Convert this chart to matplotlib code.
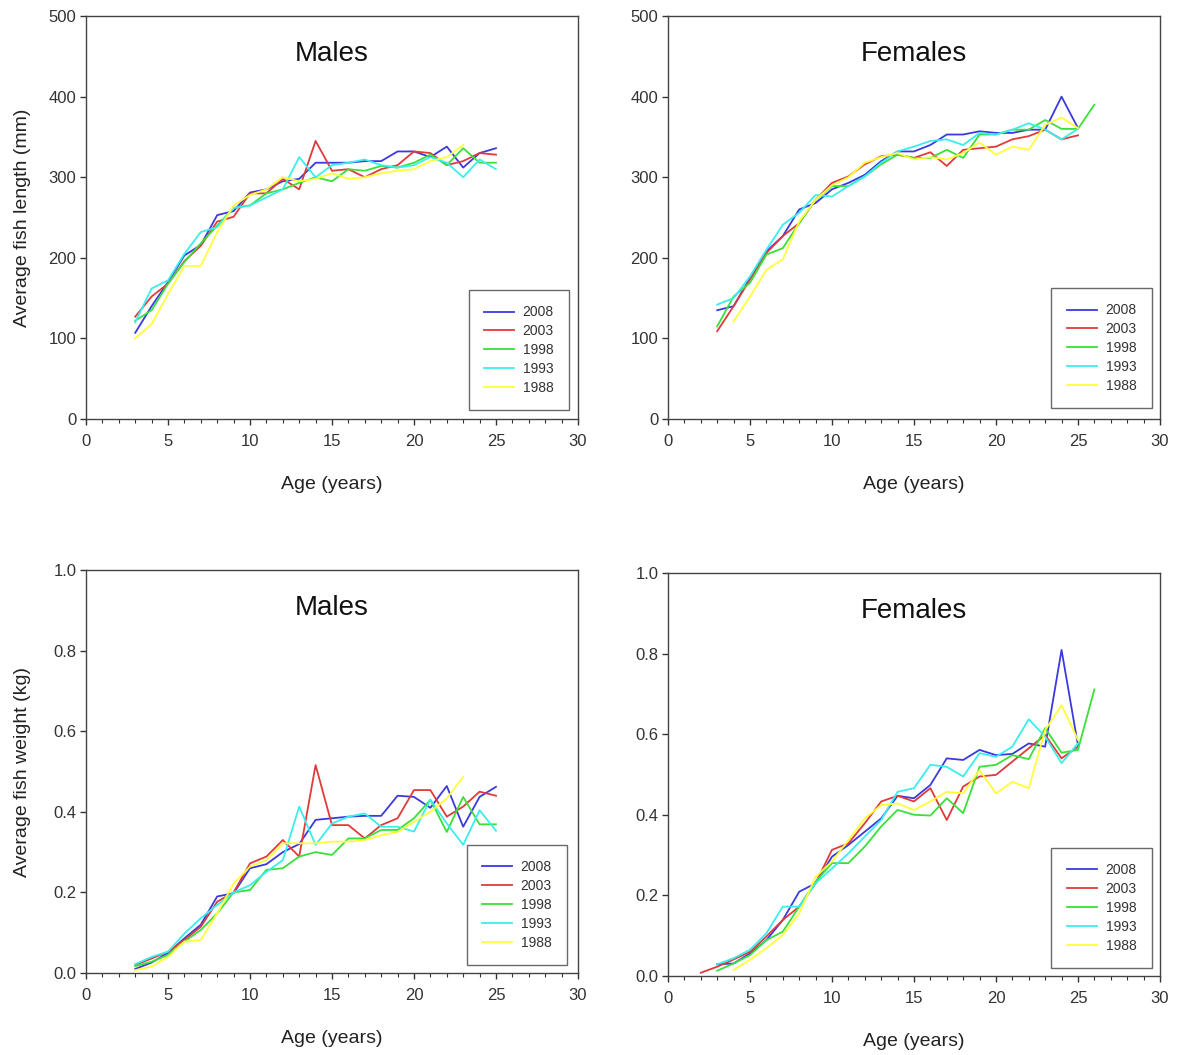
import matplotlib
matplotlib.use("Agg")
import matplotlib.pyplot as plt
from matplotlib.ticker import MultipleLocator, FormatStrFormatter

plt.rcParams['font.family'] = ['Liberation Sans', 'DejaVu Sans']

years = ['2008', '2003', '1998', '1993', '1988']
colors = ['#3a3ae0', '#e03a3a', '#3ae03a', '#3aeeee', '#ffff3a']

# age ranges per series
ages_3_25 = list(range(3, 26))
ages_3_23 = list(range(3, 24))
ages_4_25 = list(range(4, 26))
ages_3_26 = list(range(3, 27))
ages_2_25 = list(range(2, 26))

# --- males, length (mm)
m_len_2008 = [107, 140, 170, 203, 216, 253, 258, 281, 285, 295, 298, 318, 318, 318, 320, 320, 332, 332, 325, 338, 312, 330, 336]
m_len_2003 = [127, 152, 168, 196, 215, 245, 251, 280, 280, 298, 285, 345, 308, 310, 300, 310, 315, 332, 330, 315, 320, 330, 328]
m_len_1998 = [122, 135, 168, 195, 218, 240, 262, 265, 280, 285, 293, 300, 295, 310, 308, 314, 312, 318, 328, 315, 336, 318, 318]
m_len_1993 = [120, 162, 172, 205, 232, 238, 262, 265, 275, 285, 325, 300, 315, 318, 322, 315, 312, 315, 325, 318, 300, 322, 310]
m_len_1988 = [100, 118, 155, 190, 190, 232, 265, 278, 285, 300, 295, 298, 305, 298, 300, 305, 308, 310, 320, 325, 340]

# --- females, length (mm)
f_len_2008 = [135, 140, 175, 208, 227, 260, 268, 285, 293, 303, 320, 332, 332, 340, 353, 353, 357, 355, 355, 359, 359, 400, 361]
f_len_2003 = [109, 140, 173, 206, 227, 243, 272, 293, 301, 316, 326, 328, 324, 331, 314, 334, 336, 338, 347, 351, 359, 347, 352]
f_len_1998 = [115, 152, 169, 204, 212, 243, 272, 289, 289, 301, 316, 328, 324, 324, 334, 324, 353, 353, 359, 359, 371, 360, 360, 390]
f_len_1993 = [142, 150, 177, 210, 241, 256, 278, 276, 289, 301, 318, 332, 338, 345, 347, 340, 355, 353, 359, 367, 359, 347, 360]
f_len_1988 = [121, 152, 185, 198, 245, 272, 290, 300, 318, 325, 330, 322, 325, 322, 330, 343, 328, 338, 334, 365, 374, 361]

# --- males, weight (kg)
m_wt_2008 = [0.010, 0.026, 0.050, 0.086, 0.120, 0.190, 0.198, 0.260, 0.270, 0.300, 0.320, 0.380, 0.384, 0.388, 0.390, 0.390, 0.440, 0.437, 0.410, 0.464, 0.363, 0.437, 0.462]
m_wt_2003 = [0.020, 0.036, 0.053, 0.082, 0.115, 0.177, 0.200, 0.272, 0.289, 0.330, 0.289, 0.516, 0.367, 0.367, 0.334, 0.367, 0.384, 0.454, 0.454, 0.388, 0.413, 0.450, 0.440]
m_wt_1998 = [0.017, 0.028, 0.045, 0.078, 0.107, 0.148, 0.200, 0.206, 0.256, 0.260, 0.289, 0.300, 0.293, 0.334, 0.334, 0.355, 0.355, 0.384, 0.430, 0.350, 0.437, 0.369, 0.369]
m_wt_1993 = [0.022, 0.040, 0.053, 0.098, 0.136, 0.169, 0.200, 0.218, 0.251, 0.280, 0.413, 0.318, 0.371, 0.388, 0.396, 0.363, 0.363, 0.351, 0.430, 0.371, 0.318, 0.404, 0.353]
m_wt_1988 = [0.007, 0.016, 0.040, 0.078, 0.082, 0.148, 0.222, 0.264, 0.280, 0.322, 0.322, 0.322, 0.326, 0.326, 0.330, 0.342, 0.350, 0.375, 0.400, 0.433, 0.487]

# --- females, weight (kg)
f_wt_2008 = [0.029, 0.031, 0.056, 0.089, 0.139, 0.209, 0.230, 0.296, 0.325, 0.358, 0.391, 0.447, 0.441, 0.474, 0.540, 0.536, 0.561, 0.548, 0.551, 0.577, 0.569, 0.809, 0.573]
f_wt_2003 = [0.008, 0.023, 0.041, 0.060, 0.098, 0.139, 0.172, 0.230, 0.313, 0.329, 0.379, 0.433, 0.447, 0.433, 0.466, 0.387, 0.470, 0.495, 0.499, 0.532, 0.565, 0.598, 0.540, 0.569]
f_wt_1998 = [0.013, 0.031, 0.052, 0.089, 0.110, 0.172, 0.234, 0.280, 0.280, 0.321, 0.371, 0.412, 0.400, 0.398, 0.441, 0.404, 0.519, 0.524, 0.548, 0.538, 0.615, 0.554, 0.561, 0.711]
f_wt_1993 = [0.029, 0.044, 0.065, 0.106, 0.172, 0.172, 0.230, 0.267, 0.304, 0.346, 0.387, 0.457, 0.466, 0.524, 0.519, 0.495, 0.553, 0.544, 0.569, 0.637, 0.594, 0.528, 0.577]
f_wt_1988 = [0.015, 0.040, 0.069, 0.102, 0.155, 0.246, 0.284, 0.337, 0.391, 0.424, 0.428, 0.412, 0.433, 0.457, 0.453, 0.511, 0.453, 0.482, 0.466, 0.610, 0.672, 0.586]

panels = [
    # (rect, title, ylabel, ymax, ystep, fmt, series, legend anchor)
    ([0.0729, 0.6028, 0.4169, 0.3820], 'Males', 'Average fish length (mm)', 500, 100, '%d',
     [(ages_3_25, m_len_2008), (ages_3_25, m_len_2003), (ages_3_25, m_len_1998),
      (ages_3_25, m_len_1993), (ages_3_23, m_len_1988)], (0.982, 0.022)),
    ([0.5661, 0.6028, 0.4169, 0.3820], 'Females', None, 500, 100, '%d',
     [(ages_3_25, f_len_2008), (ages_3_25, f_len_2003), (ages_3_26, f_len_1998),
      (ages_3_25, f_len_1993), (ages_4_25, f_len_1988)], (0.984, 0.027)),
    ([0.0729, 0.0777, 0.4169, 0.3820], 'Males', 'Average fish weight (kg)', 1.0, 0.2, '%.1f',
     [(ages_3_25, m_wt_2008), (ages_3_25, m_wt_2003), (ages_3_25, m_wt_1998),
      (ages_3_25, m_wt_1993), (ages_3_23, m_wt_1988)], (0.978, 0.02)),
    ([0.5661, 0.0749, 0.4169, 0.3820], 'Females', None, 1.0, 0.2, '%.1f',
     [(ages_3_25, f_wt_2008), (ages_2_25, f_wt_2003), (ages_3_26, f_wt_1998),
      (ages_3_25, f_wt_1993), (ages_4_25, f_wt_1988)], (0.984, 0.02)),
]

fig = plt.figure(figsize=(11.8, 10.55), dpi=100)

for rect, title, ylabel, ymax, ystep, fmt, series, anchor in panels:
    ax = fig.add_axes(rect)
    for (x, y), c, yr in zip(series, colors, years):
        ax.plot(x, y, color=c, lw=1.3, label=yr)
    ax.set_xlim(0, 30)
    ax.set_ylim(0, ymax)
    ax.xaxis.set_major_locator(MultipleLocator(5))
    ax.xaxis.set_minor_locator(MultipleLocator(1))
    ax.yaxis.set_major_locator(MultipleLocator(ystep))
    ax.yaxis.set_major_formatter(FormatStrFormatter(fmt))
    ax.tick_params(which='major', direction='out', length=4, width=1, labelsize=12,
                   colors='#333333')
    ax.tick_params(axis='x', which='major', pad=7)
    ax.tick_params(axis='y', which='major', pad=3)
    ax.tick_params(which='minor', direction='out', length=3, width=0.8, colors='#333333')
    for sp in ax.spines.values():
        sp.set_color('#444444')
        sp.set_linewidth(1.0)
    ax.text(0.5, 0.905, title, transform=ax.transAxes, ha='center', va='center',
            fontsize=20, color='#111111')
    ax.set_xlabel('Age (years)', fontsize=14, color='#222222', labelpad=19)
    if ylabel:
        ax.set_ylabel(ylabel, fontsize=14, color='#222222')
        ax.yaxis.set_label_coords(-0.112, 0.5)
    leg = ax.legend(loc='lower right', bbox_to_anchor=anchor, fontsize=10,
                    frameon=True, fancybox=False, edgecolor='#444444',
                    handlelength=2.2, labelspacing=0.35, borderpad=1.1,
                    handletextpad=0.6, borderaxespad=0)
    leg.get_frame().set_linewidth(1.0)
    for t in leg.get_texts():
        t.set_color('#333333')

fig.savefig('out.png', dpi=100)
